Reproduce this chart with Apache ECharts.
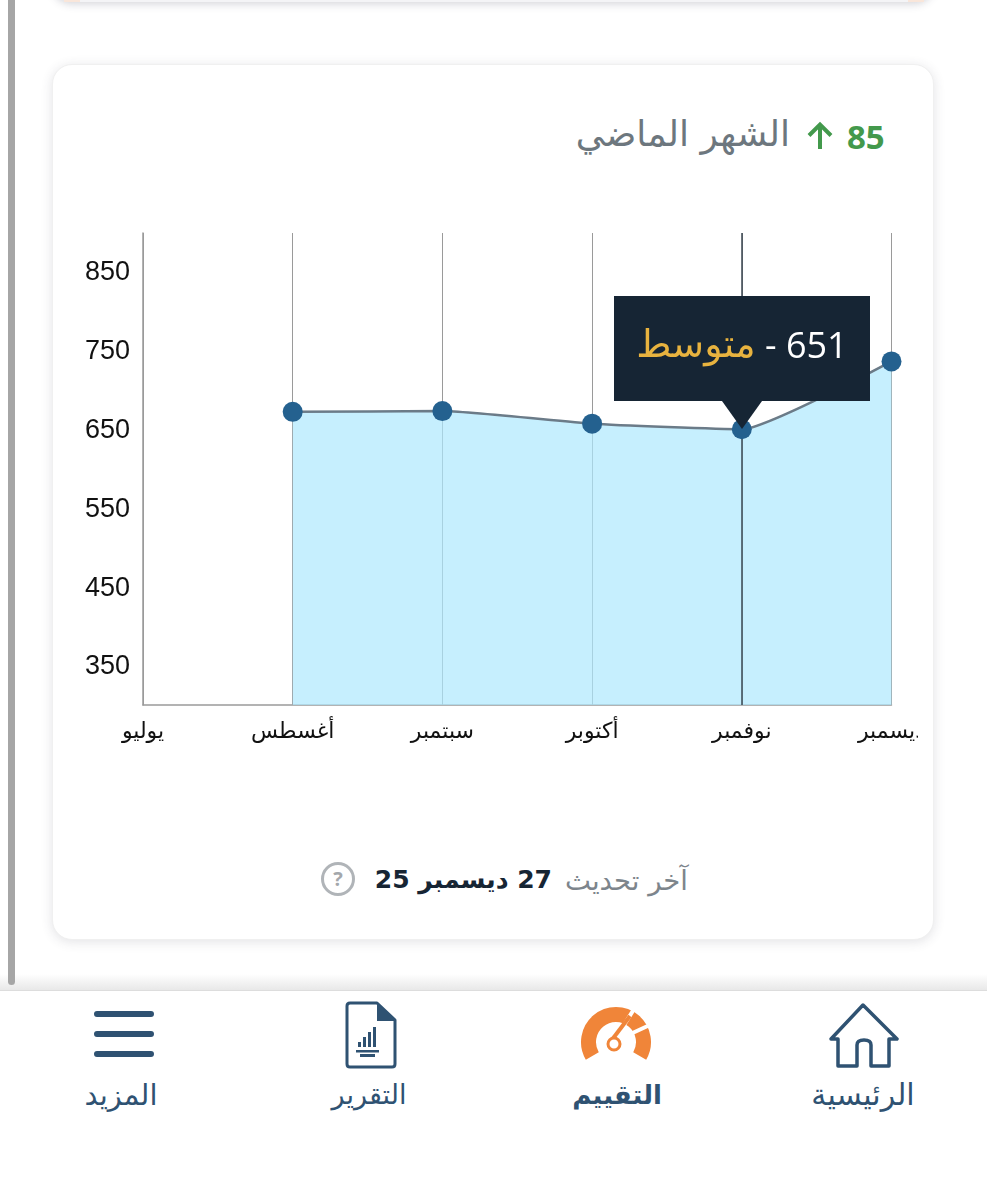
<!DOCTYPE html>
<html lang="ar">
<head>
<meta charset="utf-8">
<script src="https://cdn.jsdelivr.net/npm/echarts@6/dist/echarts.min.js"></script>
<style>
html,body{margin:0;padding:0;background:#fff;width:987px;height:1200px;overflow:hidden;font-family:"Open Sans","DejaVu Sans",sans-serif}
.abs{position:absolute;white-space:nowrap}
#chart{position:absolute;left:0;top:0;width:918px;height:800px}
.nav{color:#2f5272;line-height:34px;transform:translateX(-50%);direction:rtl;font-family:'DejaVu Sans'}
</style>
</head>
<body>
<div class="abs" style="left:52px;top:-40px;width:882px;height:42px;border-radius:20px;background:#f4f4f6;box-shadow:0 2px 8px rgba(60,60,80,.22)"></div>
<div class="abs" style="left:64px;top:0;width:16px;height:2px;background:#f9e6da"></div>
<div class="abs" style="left:908px;top:0;width:16px;height:2px;background:#f9e6da"></div>
<div class="abs" style="left:52px;top:64px;width:882px;height:876px;box-sizing:border-box;background:#fff;border-radius:20px;border:1px solid #f0f0f0;box-shadow:0 2px 12px rgba(60,60,80,.14)"></div>

<div class="abs" style="left:847px;top:114px;font:700 33px 'Open Sans';color:#43994c">85</div>
<svg class="abs" style="left:805px;top:120px" width="30" height="32" viewBox="0 0 30 32"><path d="M15 29V5M4 15.500L15 4.500L26 15.500" fill="none" stroke="#43994c" stroke-width="4"/></svg>
<div class="abs" dir="rtl" style="right:197px;top:113px;font-size:36px;color:#6d777e;font-family:'DejaVu Sans'">الشهر الماضي</div>

<div id="chart"></div>

<div class="abs" dir="rtl" style="right:299px;top:864px;font-size:27.500px;color:#7d858c;font-family:'DejaVu Sans'">آخر تحديث</div>
<div class="abs" dir="rtl" style="right:435px;top:865px;font-size:25px;font-weight:700;color:#162534;font-family:'DejaVu Sans'">27 ديسمبر 25</div>
<svg class="abs" style="left:320px;top:861px" width="36" height="36" viewBox="0 0 36 36"><circle cx="18" cy="18" r="15.500" fill="none" stroke="#b0b4b8" stroke-width="3"/><text x="18" y="25" text-anchor="middle" font-size="20" font-weight="700" font-family="Open Sans" fill="#a4a8ac">?</text></svg>

<div class="abs" style="left:0;top:974px;width:987px;height:16px;background:linear-gradient(#fff,#e8e8e8)"></div>
<div class="abs" style="left:0;top:990px;width:987px;height:210px;background:#fff;border-top:1px solid #ddd"></div>
<div class="abs" style="left:8px;top:0;width:7px;height:985px;background:#a6a6a6;border-radius:0 0 4px 4px"></div>

<svg class="abs" style="left:0;top:990px" width="987" height="90" viewBox="0 990 987 90">
  <g stroke="#2f5272" stroke-width="6" stroke-linecap="round"><path d="M97 1014H151M97 1034H151M97 1054H151"/></g>
  <g fill="none" stroke="#2f5272" stroke-width="3" stroke-linejoin="round">
    <path d="M377 1003H350Q347 1003 347 1006V1064Q347 1067 350 1067H392Q395 1067 395 1064V1020Z"/>
  </g>
  <path d="M377 1002L396 1021H377Z" fill="#2f5272"/>
  <path d="M358 1046h3v-5h-3zM363 1046h3v-10h-3zM368 1046h3v-15h-3zM373 1046h3v-20h-3zM356 1049h23v2.500h-23zM360 1053h15v3h-15z" fill="#2f5272" transform="translate(0,1)"/>
  <path d="M592.300 1056A27.500 27.500 0 1 1 639.700 1056" fill="none" stroke="#f08539" stroke-width="15"/>
  <path d="M612 1044L636 1006M652 1024L626 1036" stroke="#fff" stroke-width="4" fill="none"/>
  <path d="M611 1041L630 1016" stroke="#f08539" stroke-width="4"/>
  <circle cx="614" cy="1044" r="6" fill="#fff" stroke="#f08539" stroke-width="3"/>
  <path d="M831 1039L863 1005L897 1039L889 1039V1066H871V1045Q871 1040 864 1040Q857 1040 857 1045V1066H838V1039Z" fill="none" stroke="#2f5272" stroke-width="3.500" stroke-linejoin="round"/>
</svg>

<div class="abs nav" style="left:121px;top:1078px;font-size:29px">المزيد</div>
<div class="abs nav" style="left:369px;top:1078px;font-size:27px">التقرير</div>
<div class="abs nav" style="left:617px;top:1078px;font-size:26px;font-weight:700">التقييم</div>
<div class="abs nav" style="left:863px;top:1078px;font-size:30px">الرئيسية</div>

<script>
const categories = ['يوليو','أغسطس','سبتمبر','أكتوبر','نوفمبر','ديسمبر'];
const scores = [null, 670, 671, 655, 648, 734];
const yTicks = [350, 450, 550, 650, 750, 850];
const tipValue = 651;
const tipLabel = 'متوسط';
const activeIndex = 4;

const chart = echarts.init(document.getElementById('chart'), null, {renderer:'canvas'});
chart.setOption({
  animation:false,
  backgroundColor:'transparent',
  grid:{left:143,right:26.5,top:233,bottom:95,containLabel:false,outerBoundsMode:'none'},
  xAxis:{
    type:'category',boundaryGap:false,data:categories,
    axisLine:{show:true,lineStyle:{color:'#9a9a9a',width:1.5}},
    axisTick:{show:false},
    axisLabel:{color:'#111',fontSize:22,margin:16,interval:0,fontFamily:'DejaVu Sans',hideOverlap:false,showMinLabel:true,showMaxLabel:true},
    splitLine:{show:true,lineStyle:{color:'#9a9a9a',width:1}}
  },
  yAxis:{
    type:'value',min:298,max:897,
    axisLine:{show:true,lineStyle:{color:'#9a9a9a',width:1.5}},
    axisTick:{show:false,customValues:yTicks},
    axisLabel:{margin:13,customValues:yTicks,formatter:'{t|{value}}',
      rich:{t:{color:'#111',fontSize:27,fontFamily:'Liberation Sans',padding:[6,0,0,0]}}},
    splitLine:{show:false}
  },
  tooltip:{
    show:true,trigger:'axis',triggerOn:'none',alwaysShowContent:true,transitionDuration:0,
    backgroundColor:'transparent',borderWidth:0,padding:0,
    extraCssText:'box-shadow:none;border-radius:0;',
    axisPointer:{type:'line',z:4,label:{show:false},lineStyle:{color:'#3a4650',width:1.5,type:'solid'}},
    position:function(){return [613.5,296];},
    formatter:function(){
      return '<div style="position:relative;width:256px;height:105px;box-sizing:border-box;padding-bottom:8px;background:#162534;display:flex;align-items:center;justify-content:center;direction:ltr;font-size:36px;font-family:\'Open Sans\',\'DejaVu Sans\',sans-serif;color:#fff">'
        +'<span style="color:#e8b33f;font-family:\'DejaVu Sans\';font-size:38px">'+tipLabel+'</span><span>&nbsp;-&nbsp;'+tipValue+'</span>'
        +'<div style="position:absolute;left:108px;top:105px;width:0;height:0;border-left:20px solid transparent;border-right:20px solid transparent;border-top:28px solid #162534"></div></div>';
    }
  },
  series:[{
    type:'line',data:scores,smooth:0.15,showSymbol:false,
    lineStyle:{width:0},
    areaStyle:{color:'#aee8fe',opacity:0.7},
    emphasis:{disabled:true},
    tooltip:{show:false},
    z:2
  },{
    type:'line',data:scores,smooth:0.15,showSymbol:true,showAllSymbol:true,symbol:'circle',symbolSize:20,
    itemStyle:{color:'#24618f'},
    lineStyle:{color:'#6b7b88',width:2.5},
    emphasis:{scale:false,disabled:true},
    z:6
  }]
});
chart.dispatchAction({type:'showTip',seriesIndex:1,dataIndex:activeIndex});
</script>
</body>
</html>
